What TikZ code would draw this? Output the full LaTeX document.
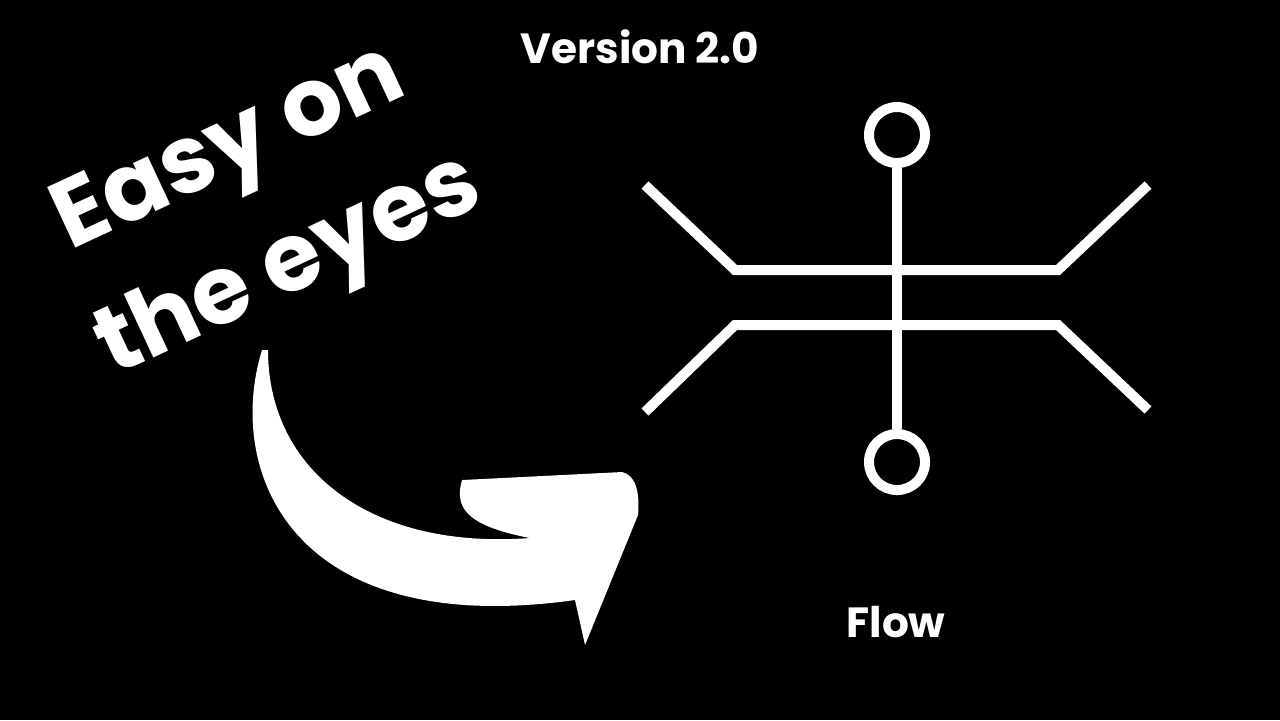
\documentclass[tikz,border=0pt]{standalone}
\usepackage{fontspec}
\setmainfont{Poppins}
\usetikzlibrary{positioning}
\tikzset{
  label/.style={text=white,font=\bfseries\fontsize{12}{14}\selectfont},
  slogan/.style={text=white,font=\bfseries\fontsize{27}{30}\selectfont,rotate=25,anchor=base},
  wire/.style={white,line width=0.1cm,line cap=butt,line join=miter},
  ring/.style={circle,draw=white,line width=0.1cm,minimum size=0.56cm,inner sep=0pt}
}
\begin{document}
\begin{tikzpicture}[x=0.01cm,y=-0.01cm]
%
\fill[black] (0,0) rectangle (1280,720);
\useasboundingbox (0,0) rectangle (1280,720);
%
\node[label] (version) at (640,47) {Version 2.0};
\node[label] (flow) at (896,622) {Flow};
\node[slogan] (easy) at (240,172) {Easy on};
\node[slogan] (eyes) at (300,290) {the eyes};
%
\node[ring] (top) at (897,135) {};
\node[ring] (bot) at (897,462) {};
\draw[wire] (top) -- (bot);
\draw[wire] (645,185) -- (735,270) -- (1058,270) -- (1148,185);
\draw[wire] (645,412) -- (735,325) -- (1058,325) -- (1148,410);
%
\fill[white] (262,350) .. controls (225,470) and (290,640) .. (575,600)
  -- (585,645) -- (638,515) .. controls (640,490) and (635,475) .. (622,472)
  -- (462,480) .. controls (455,505) and (462,525) .. (530,538)
  .. controls (370,550) and (268,470) .. (268,350) -- cycle;
\end{tikzpicture}
\end{document}
